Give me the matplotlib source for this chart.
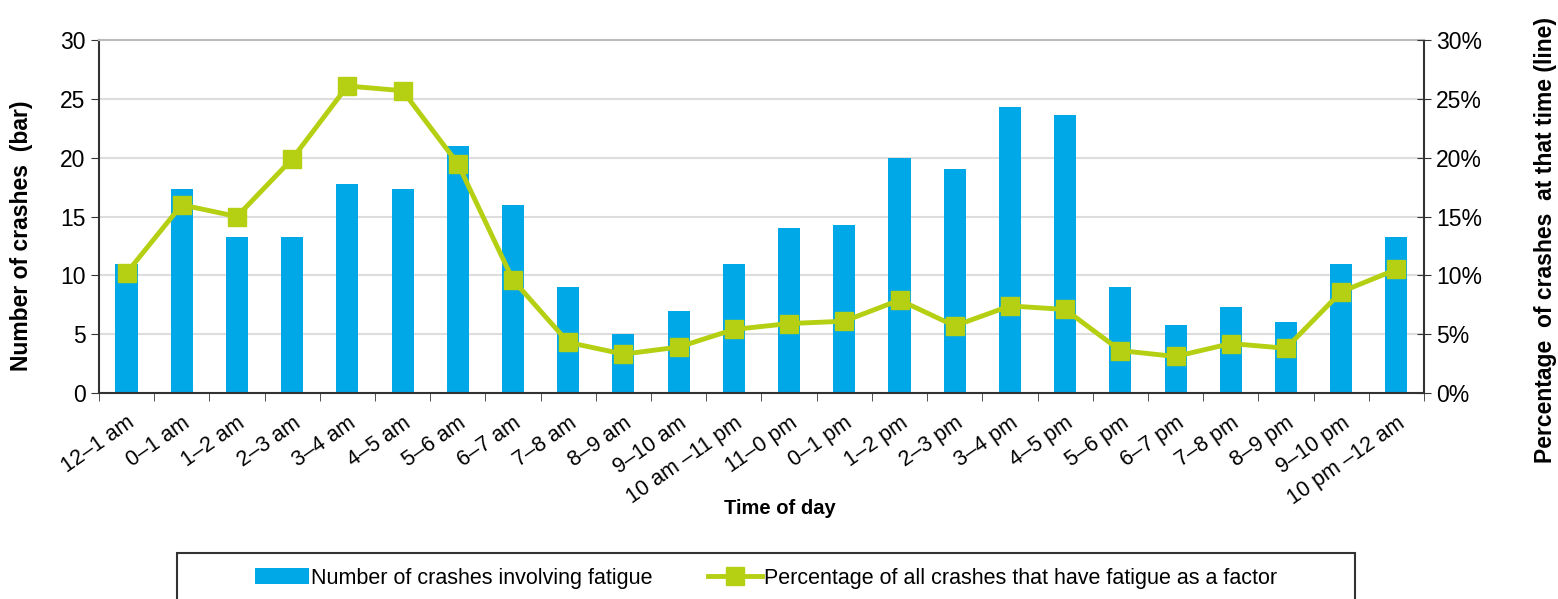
import numpy as np
import matplotlib.pyplot as plt
from matplotlib.patches import Rectangle
from matplotlib.ticker import PercentFormatter

plt.rcParams['font.family'] = ['Liberation Sans', 'DejaVu Sans']

hours = ["12\u20131 am", "0\u20131 am", "1\u20132 am", "2\u20133 am", "3\u20134 am", "4\u20135 am",
         "5\u20136 am", "6\u20137 am", "7\u20138 am", "8\u20139 am", "9\u201310 am", "10 am \u201311 pm",
         "11\u20130 pm", "0\u20131 pm", "1\u20132 pm", "2\u20133 pm", "3\u20134 pm", "4\u20135 pm",
         "5\u20136 pm", "6\u20137 pm", "7\u20138 pm", "8\u20139 pm", "9\u201310 pm", "10 pm \u201312 am"]
crashes = [11, 17.3, 13.3, 13.3, 17.8, 17.3, 21, 16, 9, 5, 7, 11,
           14, 14.3, 20, 19, 24.3, 23.6, 9, 5.8, 7.3, 6, 11, 13.3]
pct = [10.2, 16.0, 15.0, 19.9, 26.1, 25.7, 19.5, 9.6, 4.3, 3.3, 3.9, 5.4,
       5.9, 6.1, 7.9, 5.7, 7.4, 7.1, 3.6, 3.1, 4.2, 3.8, 8.6, 10.5]

bar_color = "#00a8e8"
line_color = "#b5cf12"

fig = plt.figure(figsize=(15.58, 5.99), dpi=100)
ax = fig.add_axes([0.0635, 0.344, 0.8505, 0.589])
x = np.arange(len(hours))

b = ax.bar(x, crashes, width=0.4, color=bar_color, zorder=2,
           label="Number of crashes involving fatigue")
ax.set_xlim(-0.5, len(hours) - 0.5)
ax.set_ylim(0, 30)
ax.set_yticks(range(0, 31, 5))
ax.yaxis.grid(True, color="#dddddd", linewidth=1.5, zorder=0)
ax.tick_params(axis='y', labelsize=16.5, direction='out', length=6, color="#333333")
ax.set_xticks(x)
ax.set_xticklabels(hours, rotation=35, ha='right', rotation_mode='anchor', fontsize=15.5)
ax.tick_params(axis='x', which='major', length=0, pad=14)
ax.set_xticks(np.arange(-0.5, len(hours), 1), minor=True)
ax.tick_params(axis='x', which='minor', direction='out', length=6, color="#333333")
for s in ['left', 'bottom', 'right']:
    ax.spines[s].set_color("#333333")
    ax.spines[s].set_linewidth(1.5)
ax.spines['top'].set_color("#bbbbbb")
ax.spines['top'].set_linewidth(1.5)
ax.set_ylabel("Number of crashes  (bar)", fontsize=16.5, fontweight='bold')
ax.yaxis.set_label_coords(-0.05, 0.445)
ax.set_xlabel("Time of day", fontsize=14.5, fontweight='bold')
ax.xaxis.set_label_coords(0.514, -0.30)

ax2 = ax.twinx()
l, = ax2.plot(x, np.array(pct) / 100, color=line_color, linewidth=3.5, marker='s',
              markersize=13, label="Percentage of all crashes that have fatigue as a factor")
ax2.set_ylim(0, 0.30)
ax2.set_yticks(np.arange(0, 0.31, 0.05))
ax2.yaxis.set_major_formatter(PercentFormatter(1.0, decimals=0))
ax2.tick_params(axis='y', labelsize=16.5, direction='inout', length=10, color="#333333")
for s in ['left', 'bottom', 'right', 'top']:
    ax2.spines[s].set_visible(False)
ax2.set_ylabel("Percentage  of crashes  at that time (line)", fontsize=16.5,
               fontweight='bold')
ax2.yaxis.set_label_coords(1.083, 0.433)

# legend frame, cut off at the bottom edge like the original
fig.patches.append(Rectangle((177 / 1558, -0.05), (1355 - 177) / 1558, 0.05 + 46 / 599,
                             transform=fig.transFigure, fill=False,
                             edgecolor="#333333", linewidth=1.5))
fig.legend(handles=[b, l], loc='center', ncol=2, bbox_to_anchor=(0.4917, 0.035),
           fontsize=15.5, frameon=False, handlelength=2.5, handletextpad=0.1,
           columnspacing=2.6)

fig.savefig("out.png", dpi=100)
